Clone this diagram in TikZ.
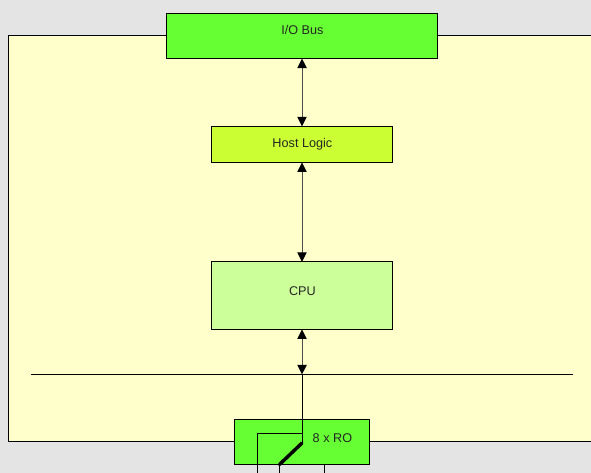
\documentclass[tikz,border=0pt]{standalone}
\usepackage{fontspec}
\setmainfont{Liberation Sans}
\usetikzlibrary{arrows.meta}
\definecolor{bgc}{HTML}{E4E4E4}
\definecolor{boardc}{HTML}{FFFFCC}
\definecolor{busc}{HTML}{66FF33}
\definecolor{hostc}{HTML}{CCFF33}
\definecolor{cpuc}{HTML}{CCFF99}
\tikzset{
  block/.style={draw=black,line width=0.75pt,inner sep=0pt,outer sep=0pt,anchor=north west},
  blocktext/.style={font=\fontsize{9.5}{11}\selectfont,text=black!85},
  link/.style={draw=black!70,line width=0.75pt},
  biarrow/.style={link,{Triangle[length=7.2pt,width=7pt,black]}-{Triangle[length=7.2pt,width=7pt,black]}},
  wire/.style={draw=black,line width=0.75pt},
  blade/.style={draw=black,line width=2.6pt,line cap=round},
}
\begin{document}
\begin{tikzpicture}[x=0.75pt,y=-0.75pt]
\useasboundingbox (0,0) rectangle (591,473);
\clip (0,0) rectangle (591,473);
\fill[bgc] (0,0) rectangle (591,473);
\node[block,fill=boardc,minimum width=450pt,minimum height=304.5pt] (board) at (8.5,35.9) {};
\node[block,fill=busc,minimum width=203.25pt,minimum height=33.75pt,label={[blocktext,xshift=0.3pt,yshift=4.2pt]center:I/O Bus}] (bus) at (166.5,13.5) {};
\node[block,fill=hostc,minimum width=135.75pt,minimum height=27pt,label={[blocktext,xshift=0.3pt,yshift=0pt]center:Host Logic}] (host) at (211.5,126.4) {};
\node[block,fill=cpuc,minimum width=135.75pt,minimum height=50.6pt,label={[blocktext,xshift=0.3pt,yshift=3.2pt]center:CPU}] (cpu) at (211.5,261.9) {};
\node[block,fill=busc,minimum width=101.25pt,minimum height=33.75pt,label={[blocktext,xshift=22.8pt,yshift=3.4pt]center:8 x RO}] (ro) at (234.5,419.7) {};
\coordinate (sep1) at (31,374.5);
\coordinate (sep2) at (573,374.5);
\coordinate (tap) at (302,374.5);
\coordinate (contact) at (302,433);
\coordinate (pivot) at (302,443);
\coordinate (bladeend) at (279.5,464.5);
\coordinate (leftcorner) at (257,433);
\coordinate (leftout) at (257,473);
\coordinate (midout) at (279.5,473);
\coordinate (rightin) at (324.5,464.5);
\coordinate (rightout) at (324.5,473);
\draw[wire] (sep1) -- (sep2);
\draw[biarrow] (bus.south -| tap) -- (host.north -| tap);
\draw[biarrow] (host.south -| tap) -- (cpu.north -| tap);
\draw[biarrow] (cpu.south -| tap) -- (tap);
\draw[wire] (tap) -- (pivot);
\draw[wire] (contact) -- (leftcorner) -- (leftout);
\draw[blade] (pivot) -- (bladeend);
\draw[wire] (bladeend) -- (midout);
\draw[wire] (rightin) -- (rightout);
\end{tikzpicture}
\end{document}
